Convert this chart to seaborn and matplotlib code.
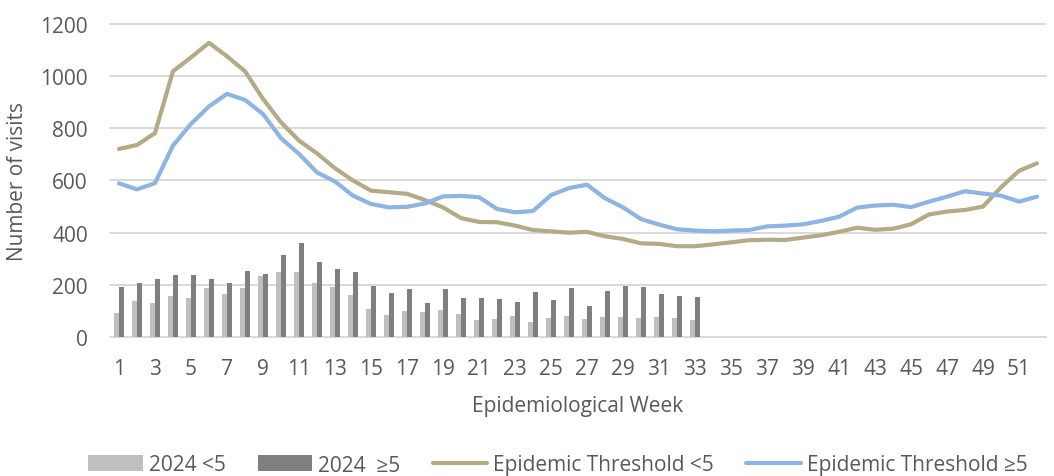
import numpy as np
import pandas as pd
import matplotlib
matplotlib.use("Agg")
import matplotlib.pyplot as plt
import seaborn as sns

# ---- data ----
weeks = list(range(1, 53))
bar_weeks = list(range(1, 34))
visits_under5 = [92, 138, 130, 158, 148, 187, 166, 187, 234, 248, 251, 207, 192, 161, 107, 84, 98,
                 95, 104, 88, 65, 68, 79, 59, 73, 79, 68, 77, 77, 72, 77, 72, 66]
visits_5plus = [192, 207, 224, 238, 236, 224, 207, 254, 243, 314, 360, 286, 261, 251, 196, 170, 183,
                130, 185, 150, 150, 146, 133, 171, 142, 189, 120, 176, 196, 190, 164, 158, 152]
threshold_under5 = [721, 736, 782, 1019, 1072, 1128, 1076, 1019, 913, 823, 753, 704, 647, 600, 561, 555,
                    549, 525, 497, 456, 441, 440, 427, 410, 405, 400, 403, 386, 376, 359, 357, 348,
                    348, 355, 363, 371, 373, 372, 381, 390, 403, 419, 411, 415, 432, 470, 481, 487,
                    500, 574, 637, 666]
threshold_5plus = [589, 566, 590, 734, 817, 884, 932, 909, 855, 762, 702, 631, 596, 542, 510, 497,
                   499, 512, 539, 541, 536, 491, 478, 483, 544, 571, 584, 532, 497, 452, 431, 413,
                   408, 405, 408, 410, 424, 427, 432, 445, 461, 496, 504, 507, 498, 519, 538, 559,
                   550, 542, 519, 538]
series_names = ["2024 <5", "2024  \u22655", "Epidemic Threshold <5", "Epidemic Threshold \u22655"]
xtick_labels = [str(w) for w in range(1, 53, 2)]
ytick_values = [0, 200, 400, 600, 800, 1000, 1200]

bars = pd.DataFrame({
    "week": bar_weeks * 2,
    "visits": visits_under5 + visits_5plus,
    "series": [series_names[0]] * len(bar_weeks) + [series_names[1]] * len(bar_weeks),
})

# ---- style ----
sns.set_style("white")
plt.rcParams["font.family"] = ["Open Sans", "DejaVu Sans"]
txt = "#595959"
fs = 15

fig = plt.figure(figsize=(10.54, 4.77), dpi=100)
ax = fig.add_axes([110 / 1054, 1 - 338 / 477, 936 / 1054, 313 / 477])

sns.barplot(data=bars, x="week", y="visits", hue="series", native_scale=True,
            palette=["#BFBFBF", "#7F7F7F"], width=0.62, gap=0.08, ax=ax,
            saturation=1, linewidth=0)
sns.lineplot(x=weeks, y=threshold_under5, color="#B5AA86", lw=3, label=series_names[2], ax=ax)
sns.lineplot(x=weeks, y=threshold_5plus, color="#8DB4E2", lw=3, label=series_names[3], ax=ax)

ax.set_xlim(0.5, 52.5)
ax.set_ylim(0, 1200)
ax.set_yticks(ytick_values)
ax.set_yticklabels([str(v) for v in ytick_values])
ax.set_xticks(list(range(1, 53, 2)))
ax.set_xticklabels(xtick_labels)
ax.tick_params(axis="both", length=0, labelsize=fs, labelcolor=txt)
ax.tick_params(axis="x", pad=15)
ax.tick_params(axis="y", pad=16)
ax.yaxis.grid(True, color="#D9D9D9", lw=1.4)
ax.set_axisbelow(True)
for gl in ax.get_ygridlines():
    gl.set_clip_on(False)
for s in ax.spines.values():
    s.set_visible(False)

ax.set_xlabel("Epidemiological Week", fontsize=fs, color=txt)
ax.set_ylabel("Number of visits", fontsize=fs, color=txt)
ax.xaxis.set_label_coords(0.5, (338 - 396) / 313)
ax.yaxis.set_label_coords((18 - 110) / 936, 0.5)
ax.yaxis.label.set_va("center")

handles, labels = ax.get_legend_handles_labels()
ax.get_legend().remove()
fig.legend(handles, labels, loc="center", bbox_to_anchor=(558 / 1054, 1 - 466 / 477),
           ncol=4, frameon=False, fontsize=fs, labelcolor=txt, handlelength=2.6,
           handleheight=0.8, handletextpad=0.3, columnspacing=1.55, borderaxespad=0)

fig.savefig("out.png", dpi=100)
